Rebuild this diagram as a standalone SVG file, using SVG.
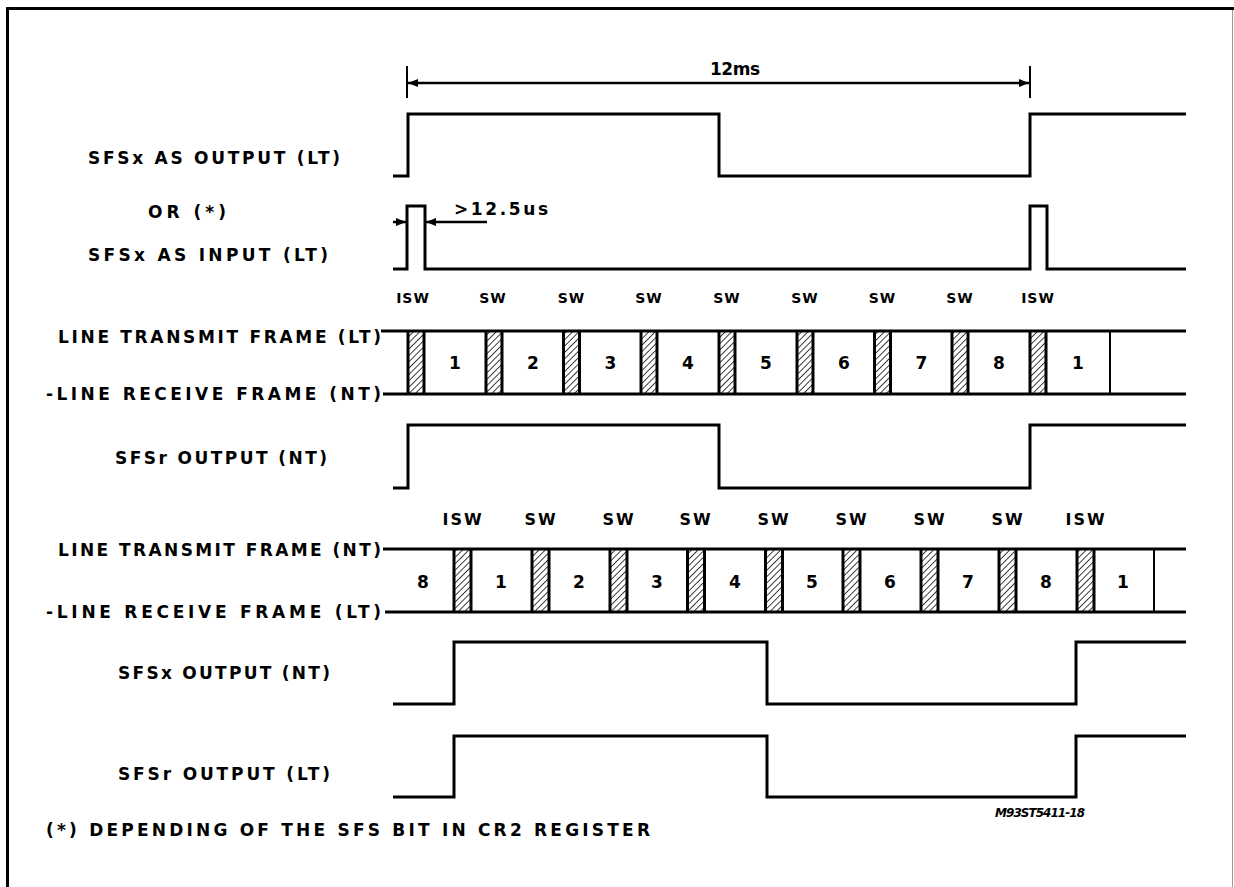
<svg xmlns="http://www.w3.org/2000/svg" width="1234" height="887" viewBox="0 0 1234 887">
<style>
.t{font-family:"DejaVu Sans","Liberation Sans",sans-serif;font-weight:bold;font-size:17px;fill:#000}
.s{font-family:"DejaVu Sans","Liberation Sans",sans-serif;font-weight:bold;font-size:14px;letter-spacing:1px;fill:#000;text-anchor:middle}
.s2{font-family:"DejaVu Sans","Liberation Sans",sans-serif;font-weight:bold;font-size:16px;letter-spacing:2px;fill:#000;text-anchor:middle}
.n{font-family:"DejaVu Sans","Liberation Sans",sans-serif;font-weight:bold;font-size:17px;fill:#000;text-anchor:middle}
.w{fill:none;stroke:#000;stroke-width:3;stroke-linejoin:miter}
.b{stroke:#000;stroke-width:3}
.e{stroke:#000;stroke-width:3}
.v{stroke:#000;stroke-width:2}
.h{fill:url(#hatch);stroke:none}
.d{fill:none;stroke:#000;stroke-width:2.5}
</style>
<defs>
<pattern id="hatch" patternUnits="userSpaceOnUse" width="4.5" height="4.5" patternTransform="rotate(45)">
<line x1="0" y1="0" x2="0" y2="4.5" stroke="#000" stroke-width="1.5"/>
</pattern>
<marker id="arr" viewBox="0 0 10 8" refX="10" refY="4" markerWidth="10" markerHeight="8" markerUnits="userSpaceOnUse" orient="auto-start-reverse">
<path d="M0,0 L10,4 L0,8 Z" fill="#000"/>
</marker>
</defs>
<rect width="1234" height="887" fill="#fff"/>
<g id="frame">
<line x1="6" y1="8.5" x2="1234" y2="8.5" stroke="#000" stroke-width="3"/>
<line x1="7.5" y1="7" x2="7.5" y2="887" stroke="#000" stroke-width="3"/>
<line x1="1232.5" y1="10" x2="1232.5" y2="887" stroke="#999" stroke-width="1"/>
</g>
<g id="connectors">
<line x1="407" y1="66" x2="407" y2="98" class="v"/>
<line x1="1030" y1="66" x2="1030" y2="98" class="v"/>
<path d="M408,83 H1029" class="d" marker-start="url(#arr)" marker-end="url(#arr)"/>
<path d="M393,222 H406" class="d" marker-end="url(#arr)"/>
<path d="M487,222 H426" class="d" marker-end="url(#arr)"/>
<text x="710" y="75" class="t" textLength="50" lengthAdjust="spacing">12ms</text>
<text x="454" y="215" class="t" textLength="94" lengthAdjust="spacing">&gt;12.5us</text>
</g>
<g id="sfsx-output-lt">
<text x="88" y="164" class="t" textLength="252" lengthAdjust="spacing">SFSx AS OUTPUT (LT)</text>
<path d="M393,176 H408 V114 H719 V176 H1030 V114 H1186" class="w"/>
</g>
<g id="or-label">
<text x="148" y="218" class="t" textLength="78" lengthAdjust="spacing">OR (*)</text>
</g>
<g id="sfsx-input-lt">
<text x="88" y="261" class="t" textLength="240" lengthAdjust="spacing">SFSx AS INPUT (LT)</text>
<path d="M393,269 H407 V206 H425 V269 H1030 V206 H1047 V269 H1186" class="w"/>
</g>
<g id="frame-lt">
<text x="58" y="343" class="t" textLength="323" lengthAdjust="spacing">LINE TRANSMIT FRAME (LT)</text>
<text x="46" y="400" class="t" textLength="335" lengthAdjust="spacing">-LINE RECEIVE FRAME (NT)</text>
<line x1="381" y1="331" x2="1186" y2="331" class="b"/>
<line x1="383" y1="394" x2="1186" y2="394" class="b"/>
<rect x="408" y="331" width="16" height="63" class="h"/><line x1="408" y1="331" x2="408" y2="394" class="e"/><line x1="424" y1="331" x2="424" y2="394" class="e"/>
<rect x="486" y="331" width="16" height="63" class="h"/><line x1="486" y1="331" x2="486" y2="394" class="e"/><line x1="502" y1="331" x2="502" y2="394" class="e"/>
<rect x="563.5" y="331" width="16" height="63" class="h"/><line x1="563.5" y1="331" x2="563.5" y2="394" class="e"/><line x1="579.5" y1="331" x2="579.5" y2="394" class="e"/>
<rect x="641" y="331" width="16" height="63" class="h"/><line x1="641" y1="331" x2="641" y2="394" class="e"/><line x1="657" y1="331" x2="657" y2="394" class="e"/>
<rect x="719" y="331" width="16" height="63" class="h"/><line x1="719" y1="331" x2="719" y2="394" class="e"/><line x1="735" y1="331" x2="735" y2="394" class="e"/>
<rect x="797" y="331" width="16" height="63" class="h"/><line x1="797" y1="331" x2="797" y2="394" class="e"/><line x1="813" y1="331" x2="813" y2="394" class="e"/>
<rect x="874.5" y="331" width="16" height="63" class="h"/><line x1="874.5" y1="331" x2="874.5" y2="394" class="e"/><line x1="890.5" y1="331" x2="890.5" y2="394" class="e"/>
<rect x="952" y="331" width="16" height="63" class="h"/><line x1="952" y1="331" x2="952" y2="394" class="e"/><line x1="968" y1="331" x2="968" y2="394" class="e"/>
<rect x="1030" y="331" width="16" height="63" class="h"/><line x1="1030" y1="331" x2="1030" y2="394" class="e"/><line x1="1046" y1="331" x2="1046" y2="394" class="e"/>
<line x1="1110" y1="331" x2="1110" y2="394" class="v"/>
<text x="413" y="303" class="s">ISW</text>
<text x="493" y="303" class="s">SW</text>
<text x="571.5" y="303" class="s">SW</text>
<text x="649" y="303" class="s">SW</text>
<text x="727" y="303" class="s">SW</text>
<text x="805" y="303" class="s">SW</text>
<text x="882.5" y="303" class="s">SW</text>
<text x="960" y="303" class="s">SW</text>
<text x="1038" y="303" class="s">ISW</text>
<text x="455" y="369" class="n">1</text>
<text x="533" y="369" class="n">2</text>
<text x="610.5" y="369" class="n">3</text>
<text x="688" y="369" class="n">4</text>
<text x="766" y="369" class="n">5</text>
<text x="844" y="369" class="n">6</text>
<text x="921.5" y="369" class="n">7</text>
<text x="999" y="369" class="n">8</text>
<text x="1078" y="369" class="n">1</text>
</g>
<g id="sfsr-output-nt">
<text x="115" y="464" class="t" textLength="212" lengthAdjust="spacing">SFSr OUTPUT (NT)</text>
<path d="M393,488 H408 V425 H719 V488 H1030 V425 H1186" class="w"/>
</g>
<g id="frame-nt">
<text x="58" y="556" class="t" textLength="323" lengthAdjust="spacing">LINE TRANSMIT FRAME (NT)</text>
<text x="46" y="618" class="t" textLength="335" lengthAdjust="spacing">-LINE RECEIVE FRAME (LT)</text>
<line x1="383" y1="549" x2="1186" y2="549" class="b"/>
<line x1="385" y1="612" x2="1186" y2="612" class="b"/>
<rect x="454" y="549" width="17" height="63" class="h"/><line x1="454" y1="549" x2="454" y2="612" class="e"/><line x1="471" y1="549" x2="471" y2="612" class="e"/>
<rect x="532" y="549" width="17" height="63" class="h"/><line x1="532" y1="549" x2="532" y2="612" class="e"/><line x1="549" y1="549" x2="549" y2="612" class="e"/>
<rect x="610" y="549" width="17" height="63" class="h"/><line x1="610" y1="549" x2="610" y2="612" class="e"/><line x1="627" y1="549" x2="627" y2="612" class="e"/>
<rect x="687.5" y="549" width="17" height="63" class="h"/><line x1="687.5" y1="549" x2="687.5" y2="612" class="e"/><line x1="704.5" y1="549" x2="704.5" y2="612" class="e"/>
<rect x="765.5" y="549" width="17" height="63" class="h"/><line x1="765.5" y1="549" x2="765.5" y2="612" class="e"/><line x1="782.5" y1="549" x2="782.5" y2="612" class="e"/>
<rect x="843" y="549" width="17" height="63" class="h"/><line x1="843" y1="549" x2="843" y2="612" class="e"/><line x1="860" y1="549" x2="860" y2="612" class="e"/>
<rect x="921" y="549" width="17" height="63" class="h"/><line x1="921" y1="549" x2="921" y2="612" class="e"/><line x1="938" y1="549" x2="938" y2="612" class="e"/>
<rect x="999" y="549" width="17" height="63" class="h"/><line x1="999" y1="549" x2="999" y2="612" class="e"/><line x1="1016" y1="549" x2="1016" y2="612" class="e"/>
<rect x="1077" y="549" width="17" height="63" class="h"/><line x1="1077" y1="549" x2="1077" y2="612" class="e"/><line x1="1094" y1="549" x2="1094" y2="612" class="e"/>
<line x1="1154" y1="549" x2="1154" y2="612" class="v"/>
<text x="463" y="525" class="s2">ISW</text>
<text x="541" y="525" class="s2">SW</text>
<text x="619" y="525" class="s2">SW</text>
<text x="696" y="525" class="s2">SW</text>
<text x="774" y="525" class="s2">SW</text>
<text x="852" y="525" class="s2">SW</text>
<text x="930" y="525" class="s2">SW</text>
<text x="1008" y="525" class="s2">SW</text>
<text x="1086" y="525" class="s2">ISW</text>
<text x="423" y="588" class="n">8</text>
<text x="501" y="588" class="n">1</text>
<text x="579" y="588" class="n">2</text>
<text x="657" y="588" class="n">3</text>
<text x="735" y="588" class="n">4</text>
<text x="812" y="588" class="n">5</text>
<text x="890" y="588" class="n">6</text>
<text x="968" y="588" class="n">7</text>
<text x="1046" y="588" class="n">8</text>
<text x="1123" y="588" class="n">1</text>
</g>
<g id="sfsx-output-nt">
<text x="118" y="679" class="t" textLength="212" lengthAdjust="spacing">SFSx OUTPUT (NT)</text>
<path d="M393,704 H454 V642 H767 V704 H1076 V642 H1186" class="w"/>
</g>
<g id="sfsr-output-lt">
<text x="118" y="780" class="t" textLength="212" lengthAdjust="spacing">SFSr OUTPUT (LT)</text>
<path d="M393,797 H454 V736 H767 V797 H1076 V736 H1186" class="w"/>
</g>
<g id="notes">
<text x="46" y="836" class="t" textLength="604" lengthAdjust="spacing">(*) DEPENDING OF THE SFS BIT IN CR2 REGISTER</text>
<text x="1085" y="817" style="font-family:'DejaVu Sans','Liberation Sans',sans-serif;font-weight:bold;font-style:italic;font-size:12px;text-anchor:end" textLength="90" lengthAdjust="spacing">M93ST5411-18</text>
</g>
</svg>
